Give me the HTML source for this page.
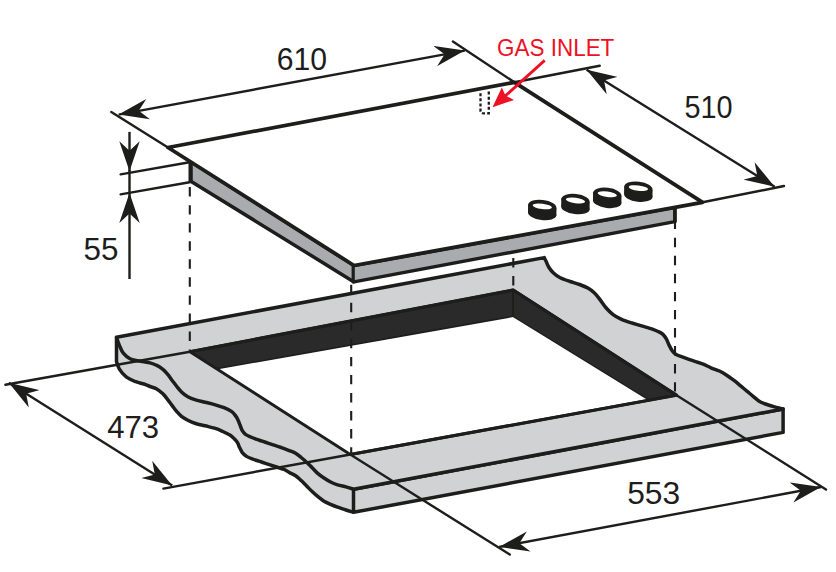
<!DOCTYPE html>
<html><head><meta charset="utf-8"><style>html,body{margin:0;padding:0;background:#fff;}svg{display:block;}</style></head><body>
<svg width="836" height="572" viewBox="0 0 836 572">
<rect width="836" height="572" fill="#fff"/>
<defs><marker id="ah" viewBox="0 0 30 21" refX="30" refY="10.5" markerWidth="30" markerHeight="21" markerUnits="userSpaceOnUse" orient="auto-start-reverse"><path d="M30,10.5 L0,0.3 L9.5,10.5 L0,20.7 Z" fill="#1d1d1b"/></marker></defs>
<path d="M353.5,489.2 C352.2,488.8 348.6,487.6 346.0,486.9 C343.4,486.2 340.2,485.6 337.6,484.8 C335.0,484.0 332.9,483.2 330.6,482.0 C328.3,480.8 325.7,479.2 323.6,477.8 C321.5,476.4 319.9,475.2 318.0,473.6 C316.1,472.0 314.3,469.9 312.4,468.0 C310.5,466.1 308.7,464.1 306.8,462.4 C304.9,460.6 303.1,459.0 301.2,457.5 C299.3,456.0 297.5,454.4 295.6,453.3 C293.7,452.2 292.4,451.8 290.0,450.8 C287.6,449.8 283.7,448.4 281.2,447.5 C278.7,446.6 277.0,446.1 274.9,445.4 C272.8,444.7 270.7,444.0 268.6,443.3 C266.5,442.6 264.4,441.9 262.3,441.2 C260.2,440.5 257.9,439.8 256.0,439.1 C254.1,438.4 252.4,437.8 250.7,437.0 C248.9,436.2 246.9,435.4 245.5,434.4 C244.1,433.3 243.2,432.2 242.3,430.7 C241.4,429.2 240.9,427.2 240.2,425.5 C239.5,423.8 238.8,421.7 238.1,420.2 C237.4,418.7 237.1,417.8 236.0,416.4 C234.9,415.0 233.8,413.1 231.8,411.6 C229.8,410.2 226.9,408.9 224.0,407.7 C221.1,406.5 217.7,405.5 214.5,404.6 C211.3,403.7 208.2,403.0 205.1,402.2 C201.9,401.4 198.5,400.7 195.6,399.8 C192.7,398.9 190.2,398.0 187.8,396.7 C185.5,395.4 183.3,393.7 181.5,392.0 C179.7,390.3 178.4,388.5 176.8,386.5 C175.2,384.5 173.6,382.3 172.0,380.2 C170.4,378.1 168.9,375.7 167.3,373.9 C165.7,372.1 164.4,370.6 162.6,369.2 C160.8,367.8 158.4,366.2 156.3,365.2 C154.2,364.1 152.2,363.5 150.0,362.9 C147.8,362.3 145.1,362.0 143.0,361.6 C140.9,361.2 139.9,361.3 137.7,360.8 C135.5,360.3 132.4,360.0 130.0,358.7 C127.6,357.4 125.1,355.3 123.3,353.1 C121.5,350.9 120.5,348.0 119.4,345.4 C118.3,342.8 117.0,338.6 116.5,337.2 L116.5,361.5 C117.0,362.8 117.8,366.6 119.4,369.2 C121.0,371.8 123.5,374.8 126.2,376.9 C128.9,379.0 132.8,380.5 135.8,381.7 C138.8,382.9 141.6,383.2 144.0,384.0 C146.4,384.8 147.9,385.7 150.0,386.5 C152.1,387.3 154.2,387.6 156.3,388.8 C158.4,390.0 160.8,391.9 162.6,393.6 C164.4,395.3 165.7,397.1 167.3,399.1 C168.9,401.1 170.4,403.3 172.0,405.4 C173.6,407.5 175.2,409.8 176.8,411.6 C178.4,413.4 179.7,414.9 181.5,416.4 C183.3,417.8 185.5,419.1 187.8,420.3 C190.2,421.5 192.7,422.6 195.6,423.5 C198.5,424.4 201.9,425.0 205.1,425.8 C208.2,426.6 211.6,427.3 214.5,428.2 C217.4,429.1 219.8,430.1 222.4,431.3 C225.0,432.5 228.3,434.0 230.3,435.3 C232.3,436.6 233.3,437.8 234.5,439.0 C235.7,440.2 236.8,441.4 237.6,442.8 C238.4,444.2 238.8,445.9 239.6,447.5 C240.4,449.1 241.2,451.1 242.3,452.6 C243.5,454.1 244.8,455.3 246.5,456.4 C248.2,457.5 250.7,458.3 252.8,459.1 C254.9,459.9 257.0,460.5 259.1,461.2 C261.2,461.9 263.3,462.6 265.4,463.3 C267.5,464.0 269.6,464.7 271.7,465.4 C273.8,466.1 275.9,466.8 278.0,467.5 C280.1,468.2 282.3,468.6 284.3,469.5 C286.3,470.4 288.1,471.9 290.0,472.9 C291.9,473.9 293.7,474.4 295.6,475.7 C297.5,477.0 299.3,478.9 301.2,480.6 C303.1,482.4 304.9,484.3 306.8,486.2 C308.7,488.1 310.5,490.1 312.4,491.8 C314.3,493.6 316.1,495.2 318.0,496.7 C319.9,498.2 321.5,499.6 323.6,500.9 C325.7,502.2 328.3,503.3 330.6,504.4 C332.9,505.4 335.0,506.3 337.6,507.2 C340.2,508.1 343.4,509.1 346.0,510.0 C348.6,510.9 352.2,511.9 353.5,512.3 Z" fill="#d1d2d4"/>
<polygon points="353.5,489.2 783.1,409.0 783.1,432.4 353.5,512.3" fill="#d1d2d4" stroke="#1d1d1b" stroke-width="3.5" stroke-linejoin="round"/>
<path d="M116.5,337.2 L116.5,361.5 C117.0,362.8 117.8,366.6 119.4,369.2 C121.0,371.8 123.5,374.8 126.2,376.9 C128.9,379.0 132.8,380.5 135.8,381.7 C138.8,382.9 141.6,383.2 144.0,384.0 C146.4,384.8 147.9,385.7 150.0,386.5 C152.1,387.3 154.2,387.6 156.3,388.8 C158.4,390.0 160.8,391.9 162.6,393.6 C164.4,395.3 165.7,397.1 167.3,399.1 C168.9,401.1 170.4,403.3 172.0,405.4 C173.6,407.5 175.2,409.8 176.8,411.6 C178.4,413.4 179.7,414.9 181.5,416.4 C183.3,417.8 185.5,419.1 187.8,420.3 C190.2,421.5 192.7,422.6 195.6,423.5 C198.5,424.4 201.9,425.0 205.1,425.8 C208.2,426.6 211.6,427.3 214.5,428.2 C217.4,429.1 219.8,430.1 222.4,431.3 C225.0,432.5 228.3,434.0 230.3,435.3 C232.3,436.6 233.3,437.8 234.5,439.0 C235.7,440.2 236.8,441.4 237.6,442.8 C238.4,444.2 238.8,445.9 239.6,447.5 C240.4,449.1 241.2,451.1 242.3,452.6 C243.5,454.1 244.8,455.3 246.5,456.4 C248.2,457.5 250.7,458.3 252.8,459.1 C254.9,459.9 257.0,460.5 259.1,461.2 C261.2,461.9 263.3,462.6 265.4,463.3 C267.5,464.0 269.6,464.7 271.7,465.4 C273.8,466.1 275.9,466.8 278.0,467.5 C280.1,468.2 282.3,468.6 284.3,469.5 C286.3,470.4 288.1,471.9 290.0,472.9 C291.9,473.9 293.7,474.4 295.6,475.7 C297.5,477.0 299.3,478.9 301.2,480.6 C303.1,482.4 304.9,484.3 306.8,486.2 C308.7,488.1 310.5,490.1 312.4,491.8 C314.3,493.6 316.1,495.2 318.0,496.7 C319.9,498.2 321.5,499.6 323.6,500.9 C325.7,502.2 328.3,503.3 330.6,504.4 C332.9,505.4 335.0,506.3 337.6,507.2 C340.2,508.1 343.4,509.1 346.0,510.0 C348.6,510.9 352.2,511.9 353.5,512.3" fill="none" stroke="#1d1d1b" stroke-width="3.5" stroke-linejoin="round"/>
<path d="M116.5,337.2 L544.3,257.6 C544.6,258.3 545.5,260.2 546.3,261.8 C547.0,263.4 547.6,265.3 548.8,267.2 C550.0,269.1 551.6,271.2 553.5,273.0 C555.4,274.8 557.5,276.4 560.2,277.8 C563.0,279.2 566.8,280.4 570.0,281.5 C573.2,282.6 576.6,283.4 579.6,284.5 C582.6,285.6 585.8,286.9 588.3,288.3 C590.8,289.7 592.5,291.1 594.5,293.0 C596.5,294.9 598.0,297.1 600.0,299.6 C602.0,302.1 604.0,305.5 606.2,308.0 C608.4,310.5 610.6,312.7 613.1,314.6 C615.6,316.5 618.4,317.9 621.5,319.3 C624.6,320.7 628.5,321.9 632.0,323.0 C635.5,324.1 639.0,325.1 642.5,326.2 C646.0,327.2 650.1,328.3 653.0,329.3 C655.9,330.3 658.3,331.5 660.0,332.4 C661.7,333.3 662.2,333.6 663.3,334.8 C664.4,336.0 665.6,337.6 666.6,339.4 C667.6,341.2 668.2,343.4 669.2,345.4 C670.2,347.4 671.5,350.0 672.7,351.5 C673.9,353.0 674.7,353.7 676.2,354.6 C677.7,355.5 679.6,356.0 681.5,356.7 C683.4,357.4 685.3,358.1 687.6,358.9 C689.9,359.7 693.0,360.8 695.5,361.6 C698.0,362.4 699.9,362.9 702.5,363.9 C705.1,364.9 708.2,366.6 711.0,367.8 C713.8,369.0 716.8,369.8 719.4,371.0 C722.0,372.2 724.3,373.6 726.7,375.2 C729.1,376.8 731.7,378.7 734.0,380.4 C736.3,382.1 738.2,383.9 740.3,385.6 C742.4,387.4 744.5,389.1 746.6,390.9 C748.7,392.6 750.8,394.4 752.9,396.1 C755.0,397.8 757.1,399.9 759.2,401.2 C761.3,402.5 762.8,403.0 765.5,404.0 C768.2,405.0 772.5,406.3 775.4,407.1 C778.3,407.9 781.8,408.7 783.1,409.0 L353.5,489.2 C352.2,488.8 348.6,487.6 346.0,486.9 C343.4,486.2 340.2,485.6 337.6,484.8 C335.0,484.0 332.9,483.2 330.6,482.0 C328.3,480.8 325.7,479.2 323.6,477.8 C321.5,476.4 319.9,475.2 318.0,473.6 C316.1,472.0 314.3,469.9 312.4,468.0 C310.5,466.1 308.7,464.1 306.8,462.4 C304.9,460.6 303.1,459.0 301.2,457.5 C299.3,456.0 297.5,454.4 295.6,453.3 C293.7,452.2 292.4,451.8 290.0,450.8 C287.6,449.8 283.7,448.4 281.2,447.5 C278.7,446.6 277.0,446.1 274.9,445.4 C272.8,444.7 270.7,444.0 268.6,443.3 C266.5,442.6 264.4,441.9 262.3,441.2 C260.2,440.5 257.9,439.8 256.0,439.1 C254.1,438.4 252.4,437.8 250.7,437.0 C248.9,436.2 246.9,435.4 245.5,434.4 C244.1,433.3 243.2,432.2 242.3,430.7 C241.4,429.2 240.9,427.2 240.2,425.5 C239.5,423.8 238.8,421.7 238.1,420.2 C237.4,418.7 237.1,417.8 236.0,416.4 C234.9,415.0 233.8,413.1 231.8,411.6 C229.8,410.2 226.9,408.9 224.0,407.7 C221.1,406.5 217.7,405.5 214.5,404.6 C211.3,403.7 208.2,403.0 205.1,402.2 C201.9,401.4 198.5,400.7 195.6,399.8 C192.7,398.9 190.2,398.0 187.8,396.7 C185.5,395.4 183.3,393.7 181.5,392.0 C179.7,390.3 178.4,388.5 176.8,386.5 C175.2,384.5 173.6,382.3 172.0,380.2 C170.4,378.1 168.9,375.7 167.3,373.9 C165.7,372.1 164.4,370.6 162.6,369.2 C160.8,367.8 158.4,366.2 156.3,365.2 C154.2,364.1 152.2,363.5 150.0,362.9 C147.8,362.3 145.1,362.0 143.0,361.6 C140.9,361.2 139.9,361.3 137.7,360.8 C135.5,360.3 132.4,360.0 130.0,358.7 C127.6,357.4 125.1,355.3 123.3,353.1 C121.5,350.9 120.5,348.0 119.4,345.4 C118.3,342.8 117.0,338.6 116.5,337.2 Z" fill="#d1d2d4" stroke="#1d1d1b" stroke-width="3.5" stroke-linejoin="round"/>
<polygon points="190.0,351.7 513.2,290.0 676.5,395.2 350.3,454.5" fill="#fff"/>
<polygon points="190.0,351.7 513.2,290.0 513.2,316.3 216.6,368.8" fill="#2a2a2a" stroke="#1d1d1b" stroke-width="1.5" stroke-linejoin="round"/>
<polygon points="513.2,290.0 676.5,395.2 649.3,400.1 513.2,316.3" fill="#2a2a2a" stroke="#1d1d1b" stroke-width="1.5" stroke-linejoin="round"/>
<polyline points="350.3,454.5 190.0,351.7 513.2,290.0 676.5,395.2 350.3,454.5" fill="none" stroke="#1d1d1b" stroke-width="2.8" stroke-linejoin="round"/>
<polyline points="190.0,351.7 513.2,290.0 676.5,395.2 350.3,454.5" fill="none" stroke="#1d1d1b" stroke-width="3.2" stroke-linejoin="round"/>
<line x1="5.4" y1="384.7" x2="190.0" y2="351.7" stroke="#1d1d1b" stroke-width="2.4" stroke-linecap="round" />
<line x1="163.4" y1="488.6" x2="350.3" y2="454.5" stroke="#1d1d1b" stroke-width="2.4" stroke-linecap="round" />
<line x1="8.8" y1="382.8" x2="172.2" y2="485.4" stroke="#1d1d1b" stroke-width="2.4" marker-start="url(#ah)" marker-end="url(#ah)"/>
<line x1="350.3" y1="454.5" x2="509.8" y2="554.6" stroke="#1d1d1b" stroke-width="2.4" stroke-linecap="round" />
<line x1="676.5" y1="395.2" x2="826.0" y2="489.5" stroke="#1d1d1b" stroke-width="2.4" stroke-linecap="round" />
<line x1="499.2" y1="546.9" x2="821.0" y2="487.0" stroke="#1d1d1b" stroke-width="2.4" marker-start="url(#ah)" marker-end="url(#ah)"/>
<line x1="189.8" y1="187.1" x2="189.8" y2="351.5" stroke="#1d1d1b" stroke-width="2.1" stroke-dasharray="9.4 8.65"/>
<line x1="351.2" y1="284.7" x2="351.2" y2="454.4" stroke="#1d1d1b" stroke-width="2.1" stroke-dasharray="9.4 8.65"/>
<line x1="513.3" y1="258.0" x2="513.3" y2="290.0" stroke="#1d1d1b" stroke-width="2.1" stroke-dasharray="9.4 8.65"/>
<line x1="675.0" y1="219.7" x2="675.0" y2="395.0" stroke="#1d1d1b" stroke-width="2.1" stroke-dasharray="9.4 8.65"/>
<polygon points="190.8,161.5 354.0,265.5 674.9,207.3 674.9,221.6 354.0,281.9 190.8,181.2" fill="#a9abae" stroke="#1d1d1b" stroke-width="3.5" stroke-linejoin="round"/>
<line x1="353.2" y1="265.5" x2="353.2" y2="281.9" stroke="#1d1d1b" stroke-width="3.2" stroke-linecap="round" />
<line x1="190.5" y1="161.5" x2="190.5" y2="181.2" stroke="#1d1d1b" stroke-width="4.0" stroke-linecap="round" />
<line x1="674.9" y1="207.3" x2="674.9" y2="221.6" stroke="#1d1d1b" stroke-width="3.4" stroke-linecap="round" />
<polygon points="168.0,147.5 514.4,82.3 702.6,202.3 354.0,265.5" fill="#fff" stroke="#1d1d1b" stroke-width="3.8" stroke-linejoin="round"/>
<g transform="translate(542.3,206.2) rotate(7)">
<ellipse cx="0.8" cy="7.6" rx="14.3" ry="6.2" fill="#1d1d1b"/>
<polygon points="-14.3,0 14.3,0 15.1,7.6 -13.5,7.6" fill="#1d1d1b"/>
<ellipse cx="0" cy="0" rx="14.2" ry="6.3" fill="#1d1d1b"/>
<ellipse cx="0" cy="0.2" rx="9.7" ry="2.7" fill="#fff"/>
</g>
<g transform="translate(575.5,200.3) rotate(7)">
<ellipse cx="0.8" cy="7.6" rx="14.3" ry="6.2" fill="#1d1d1b"/>
<polygon points="-14.3,0 14.3,0 15.1,7.6 -13.5,7.6" fill="#1d1d1b"/>
<ellipse cx="0" cy="0" rx="14.2" ry="6.3" fill="#1d1d1b"/>
<ellipse cx="0" cy="0.2" rx="9.7" ry="2.7" fill="#fff"/>
</g>
<g transform="translate(607.3,194.1) rotate(7)">
<ellipse cx="0.8" cy="7.6" rx="14.3" ry="6.2" fill="#1d1d1b"/>
<polygon points="-14.3,0 14.3,0 15.1,7.6 -13.5,7.6" fill="#1d1d1b"/>
<ellipse cx="0" cy="0" rx="14.2" ry="6.3" fill="#1d1d1b"/>
<ellipse cx="0" cy="0.2" rx="9.7" ry="2.7" fill="#fff"/>
</g>
<g transform="translate(638.4,187.9) rotate(7)">
<ellipse cx="0.8" cy="7.6" rx="14.3" ry="6.2" fill="#1d1d1b"/>
<polygon points="-14.3,0 14.3,0 15.1,7.6 -13.5,7.6" fill="#1d1d1b"/>
<ellipse cx="0" cy="0" rx="14.2" ry="6.3" fill="#1d1d1b"/>
<ellipse cx="0" cy="0.2" rx="9.7" ry="2.7" fill="#fff"/>
</g>
<path d="M480.5,93.2 L480.5,110.8 Q480.8,113.3 483.5,113.3 L488.8,113.3 L488.8,91.2" fill="none" stroke="#1d1d1b" stroke-width="2.3" stroke-dasharray="3 2.1"/>
<line x1="111.3" y1="112.0" x2="168.0" y2="147.5" stroke="#1d1d1b" stroke-width="2.4" stroke-linecap="round" />
<line x1="452.9" y1="41.5" x2="514.4" y2="82.3" stroke="#1d1d1b" stroke-width="2.4" stroke-linecap="round" />
<line x1="514.4" y1="82.3" x2="599.7" y2="65.8" stroke="#1d1d1b" stroke-width="2.4" stroke-linecap="round" />
<line x1="702.6" y1="202.3" x2="784.0" y2="186.0" stroke="#1d1d1b" stroke-width="2.4" stroke-linecap="round" />
<line x1="118.6" y1="114.6" x2="464.8" y2="50.6" stroke="#1d1d1b" stroke-width="2.4" marker-start="url(#ah)" marker-end="url(#ah)"/>
<line x1="586.6" y1="69.7" x2="774.7" y2="186.8" stroke="#1d1d1b" stroke-width="2.4" marker-start="url(#ah)" marker-end="url(#ah)"/>
<line x1="120.6" y1="174.4" x2="189.5" y2="162.2" stroke="#1d1d1b" stroke-width="2.4" stroke-linecap="round" />
<line x1="120.6" y1="194.4" x2="189.5" y2="182.2" stroke="#1d1d1b" stroke-width="2.4" stroke-linecap="round" />
<line x1="129.5" y1="131.9" x2="129.5" y2="171.2" stroke="#1d1d1b" stroke-width="2.4" marker-end="url(#ah)"/>
<line x1="129.5" y1="279.0" x2="129.5" y2="192.9" stroke="#1d1d1b" stroke-width="2.4" marker-end="url(#ah)"/>
<line x1="129.5" y1="171.0" x2="129.5" y2="193.0" stroke="#1d1d1b" stroke-width="2.4" stroke-linecap="round" />
<line x1="544.7" y1="60.4" x2="503" y2="98" stroke="#ee1124" stroke-width="2.8"/>
<path d="M492.5,107.2 L501.8,87.5 L505.5,95.5 L514,100 Z" fill="#ee1124"/>
<text transform="translate(276.80,69.70) scale(1,1.024)" font-size="30.13" fill="#1d1d1b" font-family="Liberation Sans, sans-serif">610</text>
<text transform="translate(684.40,118.40) scale(1,1.064)" font-size="28.87" fill="#1d1d1b" font-family="Liberation Sans, sans-serif">510</text>
<text transform="translate(83.50,260.40) scale(1,0.976)" font-size="31.46" fill="#1d1d1b" font-family="Liberation Sans, sans-serif">55</text>
<text transform="translate(107.20,438.00) scale(1,0.987)" font-size="31.12" fill="#1d1d1b" font-family="Liberation Sans, sans-serif">473</text>
<text transform="translate(627.20,504.00) scale(1,0.967)" font-size="31.76" fill="#1d1d1b" font-family="Liberation Sans, sans-serif">553</text>
<text transform="translate(497.10,56.00) scale(1,1.060)" font-size="22.45" fill="#ee1124" font-family="Liberation Sans, sans-serif">GAS INLET</text>
</svg>
</body></html>
